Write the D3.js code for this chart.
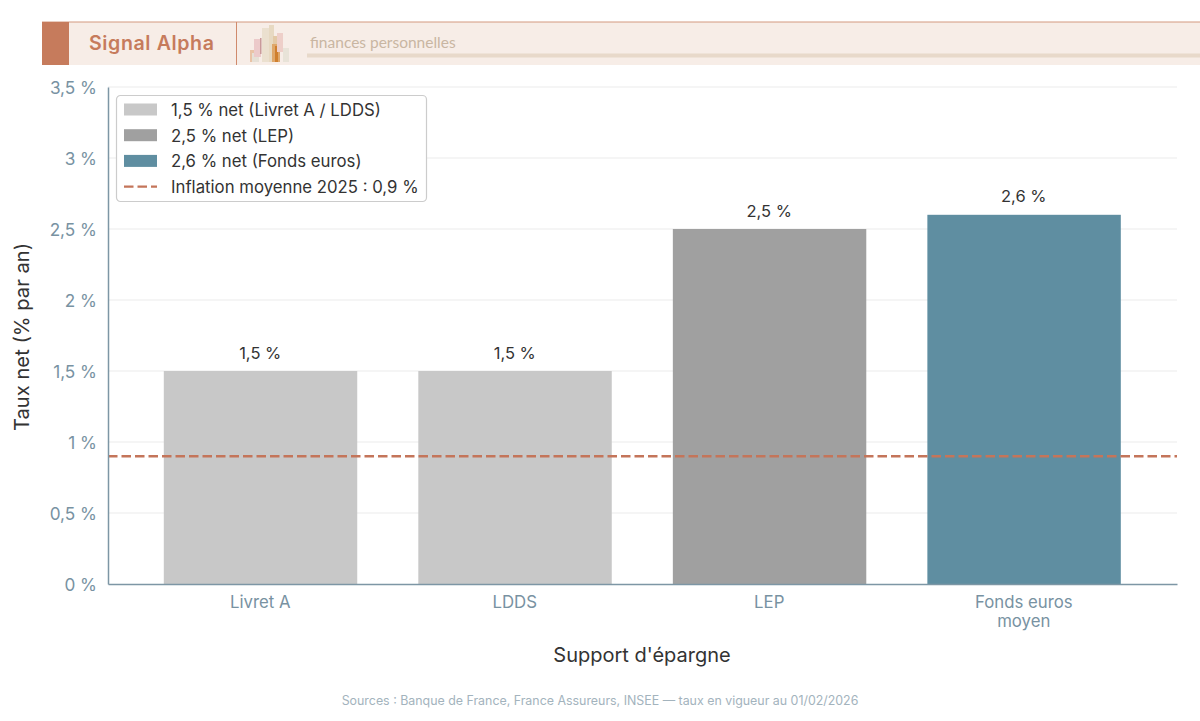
<!DOCTYPE html>
<html lang="fr">
<head>
<meta charset="utf-8">
<script src="https://cdn.jsdelivr.net/npm/d3@7/dist/d3.min.js"></script>
<style>
html,body{margin:0;padding:0;background:#fff;}
svg{display:block;}
text{font-family:Inter,"Noto Sans",sans-serif;}
</style>
</head>
<body>
<svg id="chart" width="1200" height="721"></svg>
<script>
// Taux nets des supports d'épargne réglementée et des fonds euros
const categories = ["Livret A", "LDDS", "LEP", "Fonds euros\nmoyen"];
const rates = [1.5, 1.5, 2.5, 2.6];
const barColors = ["#c8c8c8", "#c8c8c8", "#a0a0a0", "#5f8ea1"];
const inflation = 0.9;
const yTicks = [0, 0.5, 1, 1.5, 2, 2.5, 3, 3.5];
const legendLabels = [
  "1,5 % net (Livret A / LDDS)",
  "2,5 % net (LEP)",
  "2,6 % net (Fonds euros)",
  "Inflation moyenne 2025 : 0,9 %"
];
const legendColors = ["#c8c8c8", "#a0a0a0", "#5f8ea1"];
const inflationColor = "#c4755a";
const axisColor = "#7d96a5";
const tickTextColor = "#7892a2";
const inkColor = "#333333";
const dash = "9.5,4";

const fmt = v => String(v).replace(".", ",") + " %";
const svg = d3.select("#chart");

// Bandeau de marque en haut de page
const banner = svg.append("g").attr("class", "banner");
banner.append("rect").attr("x", 42).attr("y", 22).attr("width", 1158).attr("height", 43).attr("fill", "#f7ede7");
banner.append("rect").attr("x", 42).attr("y", 21.5).attr("width", 1158).attr("height", 1).attr("fill", "#d39a80");
banner.append("rect").attr("x", 42).attr("y", 22).attr("width", 27).attr("height", 43).attr("fill", "#c67b5c");
banner.append("rect").attr("x", 236).attr("y", 22).attr("width", 1).attr("height", 43).attr("fill", "#d08a6c");
banner.append("text").attr("x", 89).attr("y", 50).attr("font-size", 19.6).attr("font-weight", 600)
  .attr("letter-spacing", 0.6).attr("fill", "#c67b5c").style("font-family", "Inter, sans-serif").text("Signal Alpha");
banner.append("text").attr("x", 310).attr("y", 48).attr("font-size", 15.5).attr("font-weight", 400)
  .attr("fill", "#c9b6a2").style("font-family", "Lato, sans-serif").text("finances personnelles");
banner.append("rect").attr("x", 307).attr("y", 53.5).attr("width", 893).attr("height", 4).attr("fill", "#e8d9ca");

// Petit pictogramme d'immeubles, à gauche du sous-titre
const logoBlocks = [
  [250, 50, 8, 12, "#e9c3a6"], [252, 53, 7, 9, "#e6e0d6"], [254, 39, 7, 18, "#eccaca"],
  [260, 38, 1.5, 16, "#c99a9a"], [262, 28, 7, 34, "#ebe0cf"], [269, 25, 5, 37, "#e7d9c2"],
  [273, 36, 5, 26, "#e3c9a6"], [272, 44, 8, 18, "#dfa76a"], [275, 46, 3, 16, "#cf7f2e"],
  [277, 33, 6, 19, "#eecfc9"], [283, 48, 6, 14, "#e8e3d8"]
];
banner.selectAll("rect.logo").data(logoBlocks).join("rect").attr("class", "logo")
  .attr("x", d => d[0]).attr("y", d => d[1]).attr("width", d => d[2]).attr("height", d => d[3])
  .attr("fill", d => d[4]);

// Échelles
const plot = {left: 108, right: 1177, top: 87, bottom: 584};
const y = d3.scaleLinear().domain([0, 3.5]).range([plot.bottom, plot.top]);
const x = d3.scaleBand().domain(categories).range([plot.left, plot.right])
  .paddingInner(0.24).paddingOuter(0.22);

// Grille horizontale
svg.append("g").selectAll("line").data(yTicks.filter(t => t > 0)).join("line")
  .attr("x1", plot.left).attr("x2", plot.right)
  .attr("y1", d => y(d)).attr("y2", d => y(d))
  .attr("stroke", "#ebebeb").attr("stroke-width", 1);

// Barres
svg.append("g").selectAll("rect").data(categories).join("rect")
  .attr("x", d => x(d) - 0.2).attr("width", x.bandwidth())
  .attr("y", (d, i) => y(rates[i])).attr("height", (d, i) => y(0) - y(rates[i]))
  .attr("fill", (d, i) => barColors[i]);

// Valeurs au-dessus des barres
svg.append("g").selectAll("text").data(categories).join("text")
  .attr("x", d => x(d) + x.bandwidth() / 2 - 0.5)
  .attr("y", (d, i) => y(rates[i]) - 12.5)
  .attr("text-anchor", "middle").attr("font-size", 16.5).attr("fill", inkColor)
  .text((d, i) => fmt(rates[i]));

// Ligne d'inflation
svg.append("line").attr("x1", plot.left).attr("x2", plot.right)
  .attr("y1", y(inflation)).attr("y2", y(inflation))
  .attr("stroke", inflationColor).attr("stroke-width", 2.4).attr("stroke-dasharray", dash);

// Axes
const yAxis = d3.axisLeft(y).tickValues(yTicks).tickFormat(fmt).tickSize(0).tickPadding(11);
const gy = svg.append("g").attr("transform", `translate(${plot.left},0)`).call(yAxis);
gy.select(".domain").attr("stroke", axisColor).attr("stroke-width", 1.5);
gy.selectAll("text").attr("font-size", 17.2).attr("y", 0.7).attr("fill", tickTextColor).style("font-family", "Inter, sans-serif");

const xAxis = d3.axisBottom(x).tickSize(0).tickFormat("");
const gx = svg.append("g").attr("transform", `translate(0,${plot.bottom})`).call(xAxis);
gx.select(".domain").attr("stroke", axisColor).attr("stroke-width", 1.5);
gx.selectAll(".tick").each(function (d) {
  const t = d3.select(this).select("text").text(null)
    .attr("y", 0).attr("dy", null).attr("font-size", 16.8).attr("fill", tickTextColor)
    .style("font-family", "Inter, sans-serif");
  d.split("\n").forEach((line, i) => {
    t.append("tspan").attr("x", -0.5).attr("y", 23.5 + i * 19).text(line);
  });
});

// Titres des axes
svg.append("text").attr("transform", `translate(29,337) rotate(-90)`)
  .attr("text-anchor", "middle").attr("font-size", 20.2).attr("fill", inkColor).text("Taux net (% par an)");
svg.append("text").attr("x", 642).attr("y", 662).attr("text-anchor", "middle")
  .attr("font-size", 20).attr("fill", inkColor).text("Support d'épargne");

// Légende
const legend = svg.append("g").attr("transform", "translate(116,95)");
legend.append("rect").attr("x", 0.5).attr("y", 0.5).attr("width", 310).attr("height", 106).attr("rx", 4)
  .attr("fill", "#fff").attr("fill-opacity", 0.95).attr("stroke", "#cccccc").attr("stroke-width", 1.2);
const entries = legend.selectAll("g").data(legendLabels).join("g")
  .attr("transform", (d, i) => `translate(0,${14.5 + i * 25.7})`);
entries.filter((d, i) => i < legendColors.length).append("rect")
  .attr("x", 8).attr("y", -6).attr("width", 33).attr("height", 12)
  .attr("fill", (d, i) => legendColors[i]);
entries.filter((d, i) => i === legendColors.length).append("line")
  .attr("x1", 8).attr("x2", 41).attr("stroke", inflationColor).attr("stroke-width", 2.4).attr("stroke-dasharray", dash);
entries.append("text").attr("x", 55).attr("y", 0.5).attr("dy", "0.35em")
  .attr("font-size", 16.75).attr("fill", inkColor).text(d => d);

// Sources
svg.append("text").attr("x", 600).attr("y", 705).attr("text-anchor", "middle")
  .attr("font-size", 12.4).attr("fill", "#a3b3bd")
  .text("Sources : Banque de France, France Assureurs, INSEE — taux en vigueur au 01/02/2026");
</script>
</body>
</html>
